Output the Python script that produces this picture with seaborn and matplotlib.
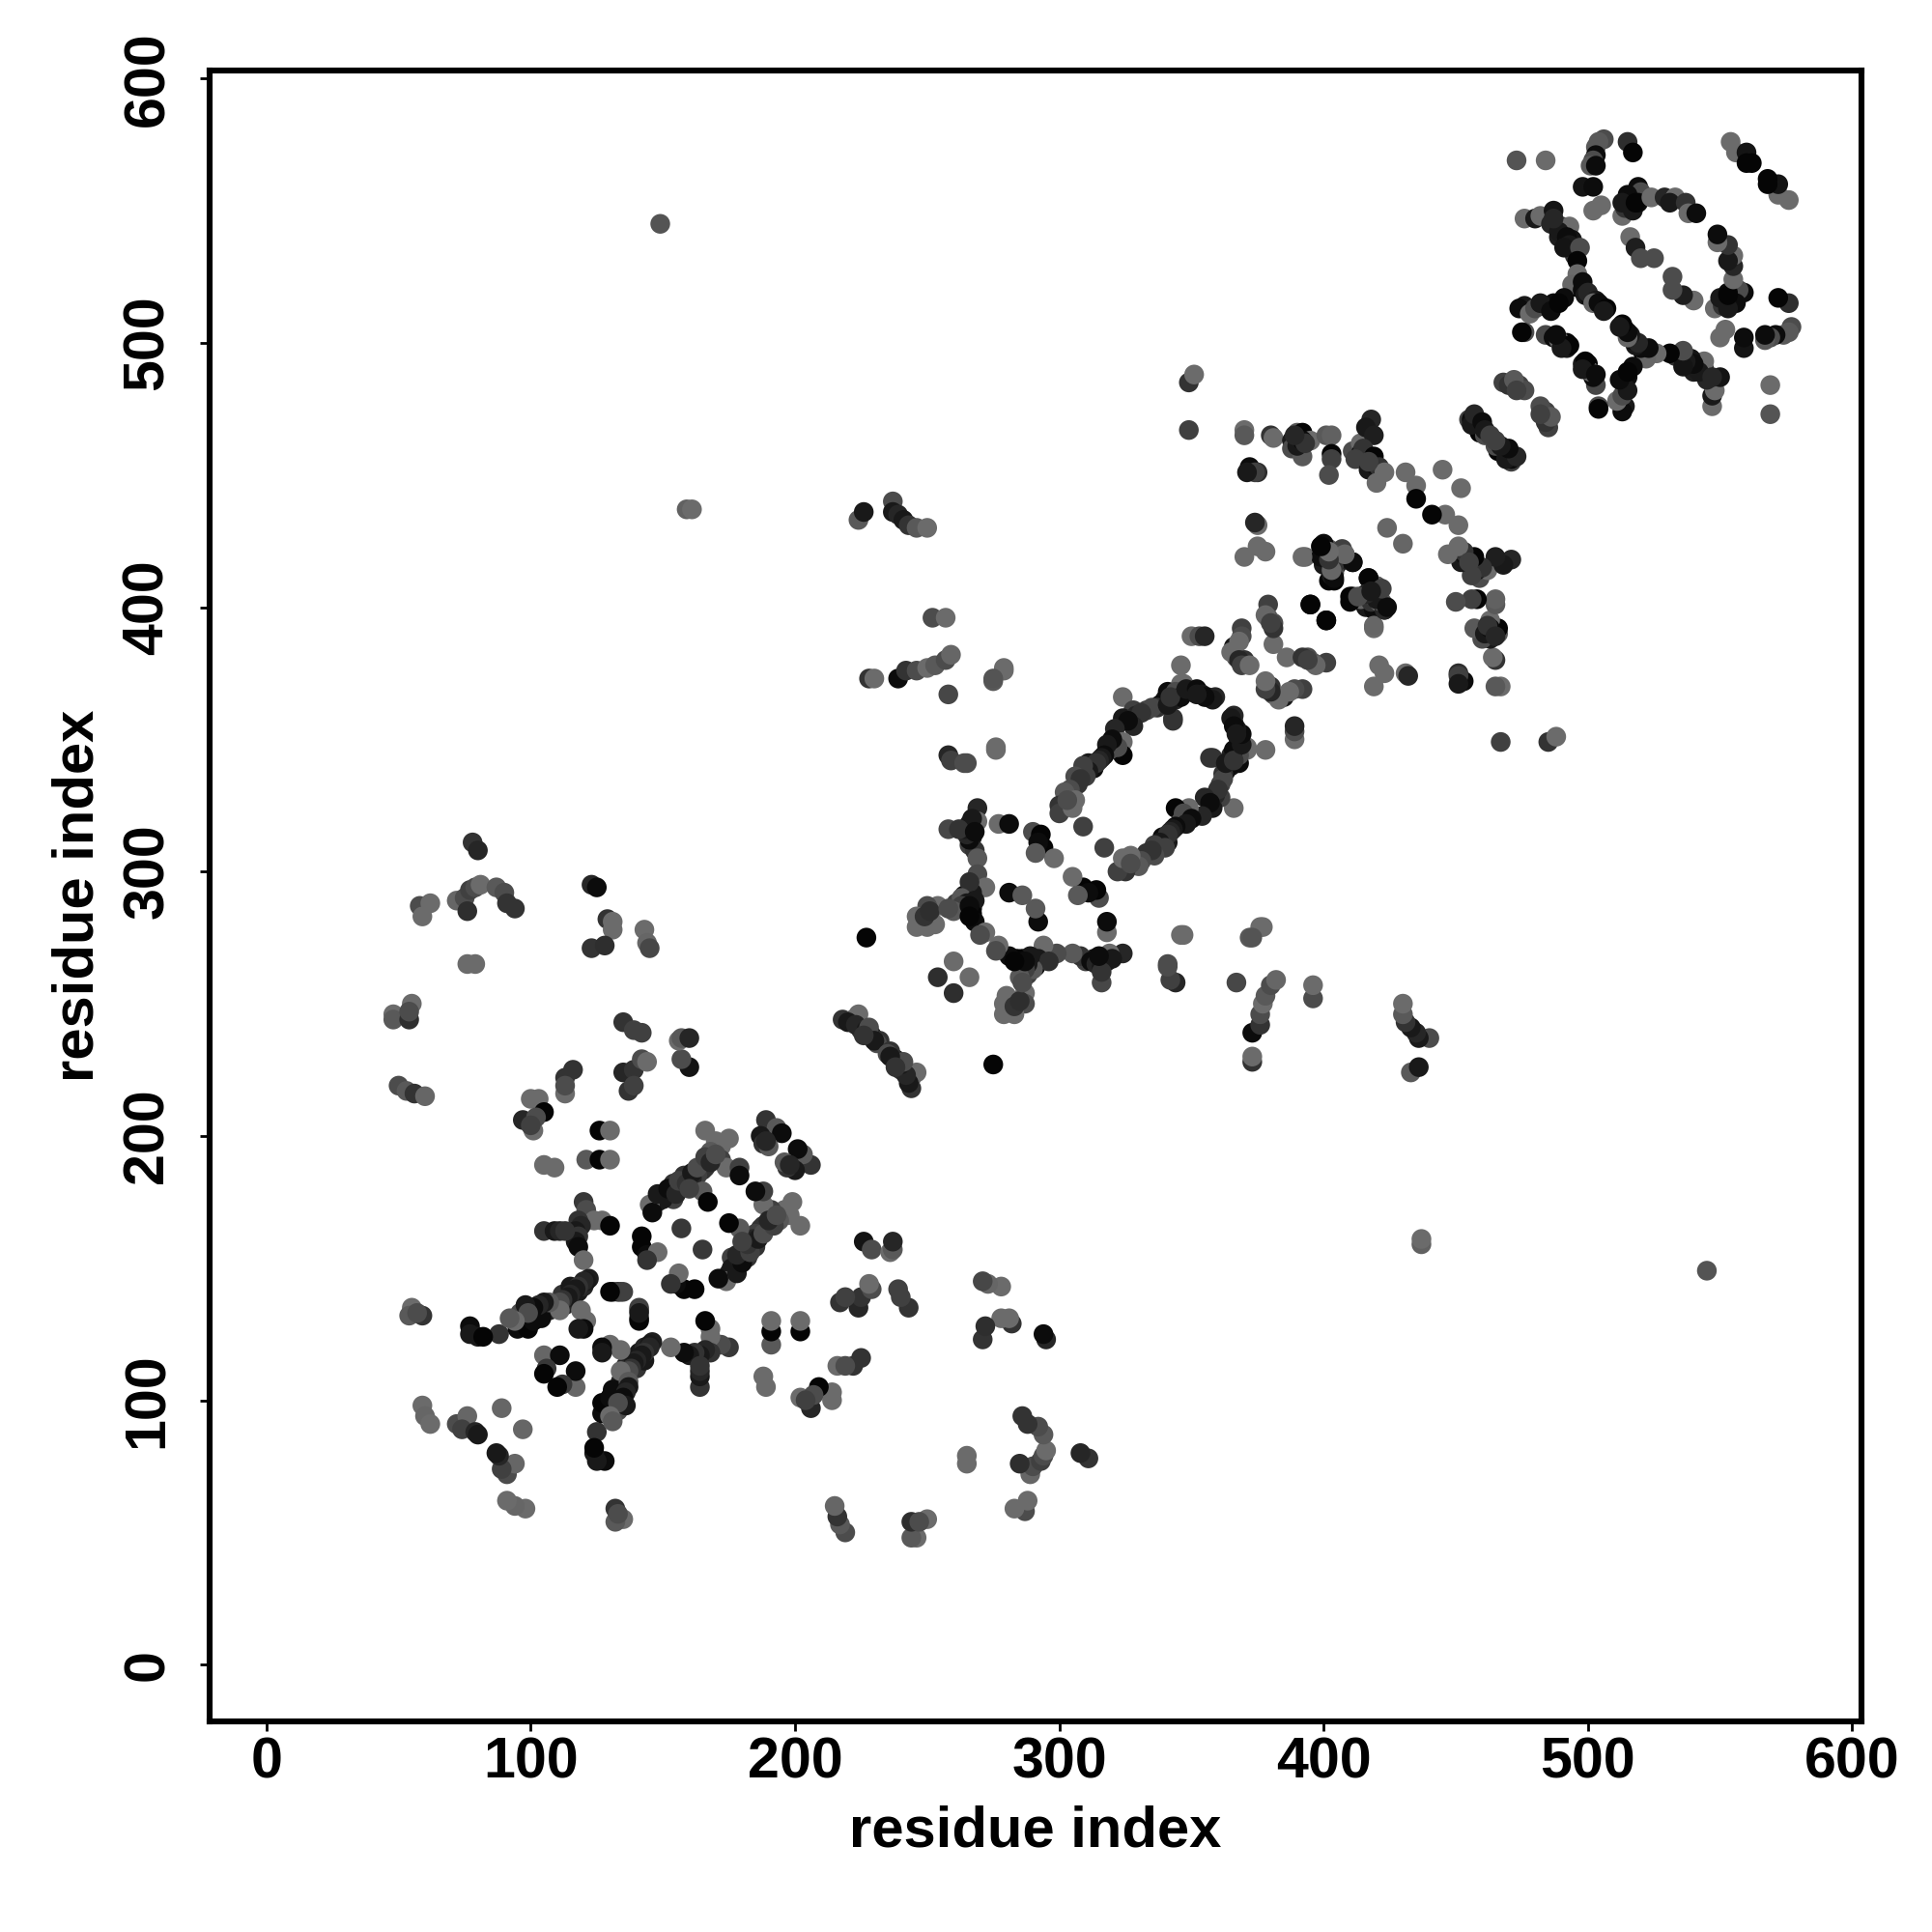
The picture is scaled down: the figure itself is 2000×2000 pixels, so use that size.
import numpy as np
import pandas as pd
import matplotlib
matplotlib.use("Agg")
import matplotlib.pyplot as plt
import seaborn as sns

# contacts are (residue i, residue j, grey level), i < j, the map is symmetric
far_contacts = [
    (149, 545, .33), (159, 437, .38), (161, 437, .42), (349, 467, .25), (349, 485, .2), (351, 488, .42),
    (224, 433, .35), (226, 436, .1), (237, 440, .3), (237, 436, .1), (239, 435, .15), (241, 433, .1), (243, 431, .2),
    (246, 430, .35), (250, 430, .42), (252, 396, .3), (257, 396, .42), (228, 373, .2), (230, 373, .42),
    (239, 373, .05), (242, 376, .2), (246, 376, .3), (250, 377, .42), (253, 378, .35), (257, 380, .3), (259, 382, .4),
    (258, 367, .28), (275, 372, .35), (279, 376, .42), (258, 344, .15), (259, 342, .25), (264, 341, .3),
    (276, 346, .42), (227, 275, .02), (160, 226, .08), (157, 229, .3),
    (78, 311, .2), (80, 308, .15), (58, 287, .3), (59, 283, .42), (62, 288, .42), (72, 289, .4), (75, 290, .3),
    (77, 293, .25), (79, 294, .3), (81, 295, .42), (76, 285, .18), (87, 294, .35), (90, 292, .3), (91, 288, .2),
    (94, 286, .2), (76, 265, .42), (79, 265, .42), (123, 295, .15), (125, 294, .05), (129, 282, .2), (131, 281, .42),
    (131, 278, .42), (123, 271, .2), (128, 272, .18), (143, 278, .42), (144, 273, .4), (145, 271, .28),
    (48, 246, .42), (48, 244, .35), (55, 250, .42), (54, 244, .18), (54, 247, .3), (50, 219, .3), (53, 217, .35),
    (56, 216, .2), (60, 215, .4), (135, 243, .2), (139, 240, .25), (142, 239, .25), (156, 236, .42), (157, 237, .35),
    (160, 237, .15), (135, 224, .15), (139, 225, .2), (142, 229, .3), (144, 228, .42), (137, 217, .2), (139, 219, .25),
    (113, 222, .2), (116, 225, .2), (113, 216, .42), (113, 219, .3),
    (55, 135, .42), (54, 132, .35), (59, 132, .2), (57, 133, .3), (77, 128, .05), (77, 125, .1), (80, 124, .1),
    (88, 125, .2), (59, 98, .42), (60, 94, .4), (62, 91, .42), (72, 91, .3), (76, 94, .4), (74, 89, .25),
    (79, 88, .15), (80, 87, .1), (89, 97, .4), (82, 124, .02),
    (218, 244, .2), (222, 244, .3), (224, 246, .42), (225, 240, .2), (229, 238, .1), (232, 236, .2), (231, 235, .3),
    (220, 243, .1), (223, 242, .15), (227, 240, .1), (228, 241, .3), (230, 236, .1), (226, 238, .2),
]

n_core = [
    (100, 214, .42), (103, 214, .42), (105, 209, .02), (97, 206, .15), (101, 202, .42), (102, 207, .3), (100, 204, .25),
    (126, 202, .02), (130, 202, .42), (105, 189, .42), (109, 188, .42), (121, 191, .35), (126, 191, .02), (130, 191, .42),
    (166, 202, .42), (170, 198, .42), (175, 199, .42), (172, 196, .42), (168, 194, .35), (172, 191, .25), (174, 188, .42),
    (179, 188, .25), (179, 185, .05), (167, 190, .25), (166, 188, .2), (165, 187, .2), (163, 185, .25), (161, 184, .15),
    (158, 185, .2), (154, 182, .2), (158, 181, .2), (156, 180, .2), (151, 178, .05), (154, 176, .25), (148, 175, .15),
    (150, 176, .1), (145, 174, .42), (146, 171, .05), (165, 179, .35), (167, 175, .02),
    (148, 178, .1), (152, 180, .05), (155, 178, .15), (156, 183, .25), (159, 182, .2), (161, 186, .1), (163, 188, .3),
    (166, 192, .25), (168, 190, .15), (170, 193, .3), (160, 180, .25),
    (189, 206, .2), (193, 203, .35), (195, 201, .05), (187, 200, .1), (188, 197, .2), (190, 196, .35), (189, 198, .15),
    (157, 165, .22), (142, 162, .02), (142, 158, .02), (144, 155, .05), (148, 156, .42), (144, 153, .2),
    (120, 175, .22), (121, 172, .3), (124, 168, .42), (127, 168, .42), (130, 166, .02), (118, 168, .2), (119, 166, .15),
    (117, 164, .1), (118, 162, .2), (117, 160, .1), (118, 158, .05), (120, 153, .42), (105, 164, .2), (109, 164, .1),
    (111, 164, .15), (113, 164, .2),
    (100, 133, .1), (103, 133, .05), (107, 134, .15), (109, 135, .1), (112, 140, .2), (115, 143, .1), (116, 138, .25),
    (113, 136, .15), (118, 141, .1), (120, 143, .15), (104, 131, .05), (96, 133, .3), (95, 127, .05), (99, 127, .02),
    (122, 146, .12), (121, 145, .1), (120, 145, .15), (118, 143, .2), (117, 142, .1), (115, 140, .15), (114, 139, .1),
    (112, 138, .2), (111, 137, .3), (111, 134, .42), (107, 137, .35), (105, 137, .1), (103, 136, .15), (101, 135, .05),
    (98, 136, .1), (97, 130, .02), (101, 130, .05), (99, 133, .3), (94, 130, .42), (92, 131, .35),
    (119, 134, .42), (121, 130, .42), (120, 127, .05), (118, 127, .1), (131, 141, .02), (135, 141, .25), (133, 141, .1),
    (141, 134, .25), (141, 130, .02), (105, 117, .4), (111, 117, .05), (106, 112, .22), (105, 110, .02),
]

mid_contacts = [
    (370, 467, .42), (370, 465, .35), (380, 465, .2), (381, 464, .42), (388, 463, .1), (390, 466, .35), (392, 466, .02),
    (395, 463, .42), (388, 460, .3), (392, 457, .35), (391, 463, .05), (401, 465, .35), (403, 465, .38),
    (390, 461, .1), (392, 463, .05), (393, 462, .2), (389, 465, .15),
    (403, 458, .02), (403, 456, .25), (402, 450, .3), (372, 453, .05), (375, 451, .18), (374, 451, .25), (371, 451, .1),
    (411, 459, .3), (414, 462, .42), (418, 471, .15), (416, 468, .1), (419, 465, .12), (414, 458, .05), (416, 458, .1),
    (415, 460, .2), (412, 456, .25), (417, 452, .1), (419, 454, .05),
    (419, 457, .02), (421, 453, .2), (423, 451, .42), (420, 447, .42), (417, 455, .25), (431, 451, .42), (435, 446, .42),
    (435, 441, .02), (445, 452, .42), (375, 431, .42), (374, 432, .15), (370, 419, .42), (375, 423, .42), (378, 421, .42),
    (393, 419, .4), (399, 423, .15), (402, 422, .35), (404, 419, .3), (408, 420, .35), (411, 417, .02), (404, 410, .02),
    (403, 420, .1), (405, 416, .15), (400, 424, .05), (407, 422, .25), (412, 403, .1), (416, 400, .1), (419, 399, .05),
    (416, 404, .2), (420, 404, .3),
    (402, 410, .02), (404, 413, .3), (406, 418, .1), (417, 411, .05), (420, 408, .4), (411, 404, .05), (414, 403, .4),
    (418, 402, .2), (421, 402, .42), (423, 399, .02), (419, 392, .42), (395, 401, .02), (401, 395, .02),
    (424, 430, .4), (379, 401, .25), (381, 394, .3), (379, 396, .35), (378, 397, .4), (381, 386, .42),
    (381, 392, .2), (380, 394, .25), (366, 385, .1), (367, 381, .3), (370, 380, .2),
    (369, 392, .25), (369, 389, .3), (368, 387, .42), (365, 383, .42), (368, 380, .15), (369, 378, .25), (372, 378, .42),
    (350, 389, .42), (353, 389, .3), (355, 389, .15), (346, 378, .42), (350, 368, .02), (356, 366, .1), (359, 366, .15),
    (343, 366, .2), (346, 371, .42), (340, 365, .15), (343, 357, .2), (468, 485, .25), (474, 484, .25), (476, 482, .3),
    (470, 484, .2), (472, 486, .35), (473, 482, .25),
    (455, 471, .25), (456, 471, .05), (458, 468, .05), (459, 466, .02), (461, 465, .3),
    (456, 469, .1), (457, 473, .15), (460, 470, .05), (461, 467, .1), (463, 465, .25),
    (279, 377, .42), (275, 373, .33), (276, 347, .42), (265, 341, .3), (324, 366, .42),
]

helix_ridge = [
    (343, 358, .2), (347, 371, .42), (350, 368, .02), (344, 365, .15), (340, 365, .1), (341, 368, .05), (344, 368, .3),
    (346, 366, .05), (338, 363, .05), (333, 361, .25), (337, 362, .2), (335, 362, .28), (328, 361, .25), (324, 358, .1),
    (329, 359, .15), (331, 360, .2), (341, 363, .1), (342, 366, .2), (348, 369, .1), (352, 369, .05), (354, 367, .1),
    (328, 355, .15), (326, 357, .05), (321, 354, .15), (324, 349, .42), (324, 344, .02), (322, 347, .3), (319, 346, .3),
    (320, 350, .05), (318, 348, .1), (312, 339, .05), (311, 341, .1), (307, 333, .2),
    (317, 344, .05), (316, 343, .1), (315, 342, .15), (313, 339, .05), (314, 341, .2), (311, 338, .1), (309, 340, .25),
    (310, 336, .25), (306, 336, .3), (308, 335, .2), (304, 331, .3), (302, 330, .35), (306, 327, .42), (300, 325, .2),
    (300, 322, .25), (305, 324, .42), (303, 327, .3), (358, 365, .1), (355, 366, .05), (352, 367, .1), (309, 317, .25),
]

small_ring = [
    (269, 324, .15), (269, 319, .42), (277, 318, .42), (281, 318, .05), (266, 318, .1), (267, 313, .1), (266, 310, .25),
    (268, 308, .2), (266, 312, .05), (267, 320, .1), (265, 314, .15),
    (264, 316, .1), (258, 316, .28), (262, 316, .2), (268, 315, .05), (269, 305, .35), (269, 299, .3), (272, 294, .42),
    (267, 292, .1), (264, 291, .05), (266, 296, .18), (261, 288, .25), (263, 290, .35), (254, 287, .42), (250, 287, .3),
    (267, 286, .05), (265, 288, .1), (263, 287, .25), (268, 289, .1),
    (246, 283, .42), (246, 279, .42), (250, 279, .42), (253, 280, .42), (249, 283, .2), (251, 285, .18), (260, 285, .35),
    (258, 286, .3), (267, 284, .02), (266, 287, .05), (268, 281, .05), (266, 283, .02), (272, 277, .42), (270, 276, .3),
    (260, 266, .42), (254, 260, .18), (281, 292, .05), (286, 291, .35), (290, 315, .3), (293, 314, .02), (294, 309, .02),
    (292, 311, .05), (291, 307, .35), (298, 305, .42),
]

c_core = [
    (473, 569, .33), (484, 569, .42), (506, 577, .3), (504, 576, .35), (503, 574, .35), (503, 571, .05), (502, 569, .3),
    (501, 567, .35), (503, 567, .05), (515, 576, .18), (517, 572, .02), (554, 576, .42), (556, 572, .42), (560, 572, .08),
    (560, 568, .02), (562, 568, .02), (498, 559, .08), (502, 559, .05), (502, 550, .42), (505, 552, .42),
    (513, 548, .42), (514, 551, .2), (515, 554, .1), (517, 556, .15), (519, 559, .05), (520, 557, .3), (516, 552, .1),
    (517, 550, .1), (519, 553, .05), (515, 556, .05), (513, 553, .1),
    (518, 553, .02), (524, 555, .42), (529, 555, .15), (533, 555, .42), (531, 553, .1), (537, 553, .2), (538, 549, .42),
    (541, 549, .05), (516, 540, .42), (518, 536, .12), (520, 532, .3), (525, 532, .3), (476, 547, .42), (480, 547, .1),
    (482, 548, .42), (487, 550, .08), (486, 545, .15), (490, 544, .2), (493, 544, .42), (489, 540, .12), (494, 539, .08),
    (489, 542, .1), (492, 540, .05), (487, 547, .15), (493, 537, .1), (495, 533, .2),
    (491, 536, .08), (497, 536, .3), (496, 531, .02), (496, 526, .42), (496, 521, .02), (494, 522, .4), (498, 520, .05),
    (498, 523, .05), (499, 518, .1), (505, 514, .1),
    (501, 517, .05), (500, 519, .15), (503, 516, .1), (502, 515, .4), (504, 515, .05), (507, 513, .02), (506, 512, .1),
    (491, 517, .05), (487, 515, .05), (483, 514, .1), (476, 514, .1), (474, 513, .05), (478, 511, .42), (480, 513, .3),
    (482, 515, .1), (486, 512, .05), (489, 515, .02),
    (476, 504, .3), (475, 504, .02), (484, 503, .28), (487, 502, .05), (492, 500, .02), (492, 498, .1), (489, 501, .4),
    (493, 499, .02), (490, 498, .1), (488, 503, .05),
]

contacts = far_contacts + n_core + mid_contacts + helix_ridge + small_ring + c_core

residue_i = [c[0] for c in contacts]
residue_j = [c[1] for c in contacts]
grey_level = [c[2] for c in contacts]

df = pd.DataFrame({
    "x": residue_i + residue_j,
    "y": residue_j + residue_i,
    "grey": grey_level + grey_level,
})

tick_values = [0, 100, 200, 300, 400, 500, 600]

sns.set_style("white")
plt.rcParams["font.family"] = ["Liberation Sans", "DejaVu Sans"]
plt.rcParams["font.weight"] = "bold"
plt.rcParams["text.color"] = "black"
plt.rcParams["axes.labelcolor"] = "black"

fig = plt.figure(figsize=(10, 10), dpi=200)
ax = fig.add_axes([0.1085, 0.109, 0.855, 0.8545])

sns.scatterplot(data=df, x="x", y="y", hue="grey", palette="gray", hue_norm=(0, 1),
                s=54, linewidth=0, legend=False, ax=ax)

ax.set_xlim(-21.5, 603.5)
ax.set_ylim(-21.5, 603)
ax.set_xticks(tick_values)
ax.set_yticks(tick_values)
ax.tick_params(axis="x", direction="out", length=3.5, width=1, color="black",
               labelsize=21.3, bottom=True, pad=2.2, labelcolor="black")
ax.tick_params(axis="y", direction="out", length=3.5, width=1, color="black",
               labelsize=21.3, left=True, pad=9.5, labelcolor="black")
plt.setp(ax.get_yticklabels(), rotation=90, va="center")
for s in ax.spines.values():
    s.set_linewidth(2.2)
    s.set_color("black")

ax.set_xlabel("residue index", fontsize=21.5, fontweight="bold", labelpad=5.8, color="black")
ax.set_ylabel("residue index", fontsize=21.5, fontweight="bold", labelpad=6.2, color="black")

fig.savefig("out.png", dpi=200)
